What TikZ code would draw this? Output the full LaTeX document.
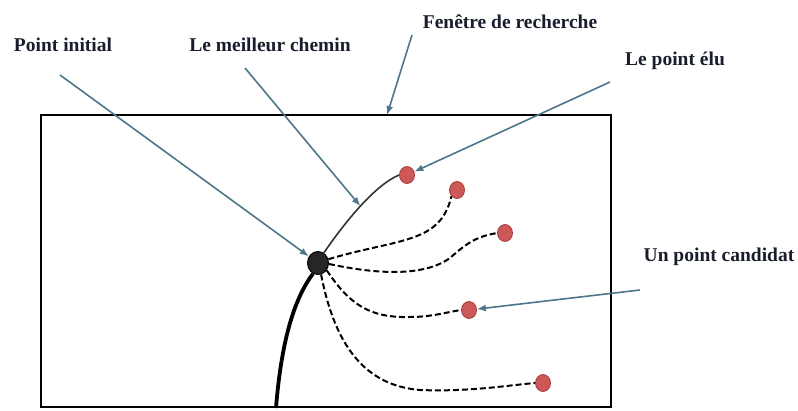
\documentclass[tikz,border=0pt]{standalone}
\usepackage{fontspec}
\setmainfont{Liberation Serif}
\usetikzlibrary{arrows.meta,shapes.geometric}
\definecolor{arrowcol}{RGB}{78,118,138}
\definecolor{redfill}{RGB}{205,88,88}
\definecolor{reddraw}{RGB}{165,60,60}
\definecolor{txtcol}{RGB}{25,30,45}
\tikzset{
  lbl/.style={font=\fontsize{19.5}{21}\selectfont\bfseries, text=txtcol, inner sep=1pt},
  arr/.style={draw=arrowcol, line width=1.6pt, -{Latex[length=9pt,width=7pt]}},
  reddot/.style={ellipse, fill=redfill, draw=reddraw, line width=0.8pt, minimum width=15pt, minimum height=17pt, inner sep=0pt},
  blackdot/.style={ellipse, fill=black!85, draw=black, line width=1pt, minimum width=21pt, minimum height=23pt, inner sep=0pt},
  dashpath/.style={draw=black, line width=2pt, dash pattern=on 6pt off 3pt},
  bestpath/.style={draw=black!80, line width=1.6pt},
  thickpath/.style={draw=black, line width=3.8pt},
  window/.style={draw=black, line width=1.6pt}
}
\begin{document}
\begin{tikzpicture}[x=1pt,y=-1pt]
\useasboundingbox (0,0) rectangle (798,410);
% search window
\draw[window] (41,115) rectangle (611,407);
\coordinate (fenend) at (387,115);
% labels
\node[lbl] (tpi) at (63,45) {Point initial};
\node[lbl] (tlmc) at (270,45) {Le meilleur chemin};
\node[lbl] (tfen) at (510,22) {Fenêtre de recherche};
\node[lbl] (telu) at (675,61) {Le point élu};
\node[lbl] (tcand) at (719,257) {Un point candidat};
% dots
\node[blackdot] (init) at (318,263) {};
\node[reddot] (r1) at (407,175) {};
\node[reddot] (r2) at (457,190) {};
\node[reddot] (r3) at (505,233) {};
\node[reddot] (r4) at (469,310) {};
\node[reddot] (r5) at (543,383) {};
% thick path
\draw[thickpath] (276,408) .. controls (281,345) and (293,300) .. (init.-115);
% best path
\draw[bestpath] (init.60) .. controls (345,222) and (375,185) .. node[coordinate,pos=0.5] (mid) {} (r1.west);
% dashed candidate paths
\draw[dashpath] (init.20) .. controls (400,238) and (440,244) .. (r2.south west);
\draw[dashpath] (init.-5) .. controls (380,275) and (425,276) .. (450,258) .. controls (470,240) and (480,236) .. (r3.west);
\draw[dashpath] (init.-40) .. controls (350,305) and (370,318) .. (410,317) .. controls (432,317) and (447,312) .. (r4.west);
\draw[dashpath] (init.-75) .. controls (333,335) and (358,385) .. (420,390) .. controls (470,392) and (510,385) .. (r5.west);
% label arrows
\coordinate (pis) at (60,75);
\coordinate (lmcs) at (245,68);
\coordinate (fens) at (412,35);
\coordinate (elus) at (610,82);
\coordinate (cands) at (640,290);
\draw[arr] (pis) -- (init);
\draw[arr] (lmcs) -- (mid);
\draw[arr] (fens) -- (fenend);
\draw[arr] (elus) -- (r1);
\draw[arr] (cands) -- (r4);
\end{tikzpicture}
\end{document}
